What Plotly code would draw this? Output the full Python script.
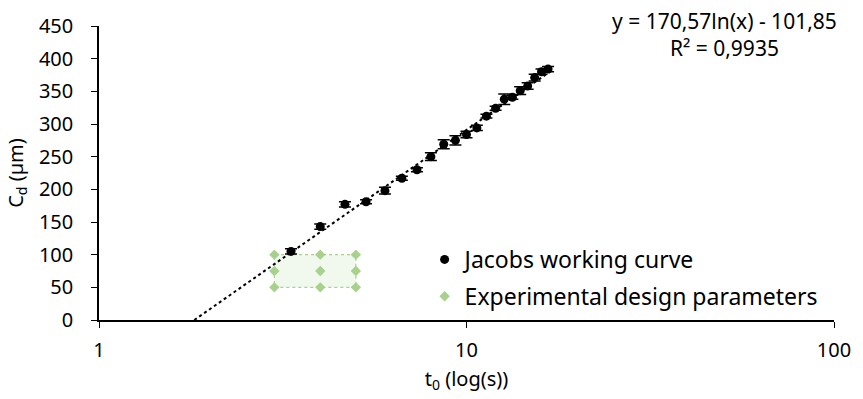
import numpy as np
import plotly.graph_objects as go

# Jacobs working curve: exposure time t0 (s) vs cure depth Cd (µm)
t0_jacobs = [3.33, 4.0, 4.67, 5.33, 6.0, 6.67, 7.33, 8.0, 8.67, 9.33, 10.0,
             10.67, 11.33, 12.0, 12.67, 13.33, 14.0, 14.67, 15.33, 16.0, 16.67]
cd_jacobs = [105, 143, 177, 181, 198, 217, 230, 250, 269, 275, 284,
             294, 312, 324, 338, 341, 351, 358, 371, 380, 384]
cd_err = [4, 4, 4, 3, 5, 3, 3, 6, 7, 7, 5,
          4, 3, 3, 8, 3, 6, 5, 5, 4, 4]

# Experimental design grid
t0_design = [3, 3, 3, 4, 4, 4, 5, 5, 5]
cd_design = [50, 75, 100, 50, 75, 100, 50, 75, 100]

# Logarithmic fit coefficients
fit_a = 170.57
fit_b = -101.85
fit_r2 = 0.9935

FONT = "Noto Sans"
GREEN = "#A9D18E"

fig = go.Figure()

# shaded design window (shape coordinates are data values on the log axis)
fig.add_shape(type="rect", xref="x", yref="y",
              x0=min(t0_design), x1=max(t0_design),
              y0=min(cd_design), y1=max(cd_design),
              fillcolor="rgba(169,209,142,0.16)",
              line=dict(color=GREEN, width=1.2, dash="dot"), layer="below")

# trendline from the fitted equation, from y=0 to the end of the data
x_start = np.exp(-fit_b / fit_a)
x_fit = np.geomspace(x_start, 17.0, 40)
y_fit = fit_a * np.log(x_fit) + fit_b
fig.add_trace(go.Scatter(x=x_fit, y=y_fit, mode="lines",
                         line=dict(color="black", width=2, dash="dot"),
                         showlegend=False, hoverinfo="skip"))

fig.add_trace(go.Scatter(
    x=t0_jacobs, y=cd_jacobs, mode="markers", name="Jacobs working curve",
    legendgroup="a",
    marker=dict(color="black", size=9, symbol="circle"),
    error_y=dict(type="data", array=cd_err, visible=True,
                 color="black", thickness=1.5, width=6)))

fig.add_trace(go.Scatter(
    x=t0_design, y=cd_design, mode="markers",
    name="Experimental design parameters", legendgroup="b",
    marker=dict(color=GREEN, size=8, symbol="diamond")))

eq_text = (f"y = {fit_a:.2f}ln(x) - {abs(fit_b):.2f}".replace(".", ",")
           + "<br>" + f"R² = {fit_r2:.4f}".replace(".", ","))
fig.add_annotation(text=eq_text, xref="paper", yref="paper",
                   x=0.8504, y=1.072, xanchor="center", yanchor="top",
                   showarrow=False, align="center",
                   font=dict(family=FONT, size=21, color="black"))

fig.update_layout(
    width=863, height=399,
    margin=dict(l=99, r=22, t=20, b=78),
    paper_bgcolor="white", plot_bgcolor="white",
    font=dict(family=FONT, size=20, color="black"),
    legend=dict(x=0.443, y=0.279, xanchor="left", yanchor="top",
                bgcolor="rgba(0,0,0,0)", tracegroupgap=4,
                font=dict(family=FONT, size=23, color="black")),
    xaxis=dict(type="log", range=[0, 2], tickvals=[1, 10, 100],
               ticktext=["1", "10", "100"],
               showline=True, linecolor="black", linewidth=1.5,
               ticks="outside", ticklen=6, tickcolor="black",
               showgrid=False, zeroline=False, ticklabelstandoff=5,
               title=dict(text="t<sub>0</sub> (log(s))", standoff=10,
                          font=dict(family=FONT, size=20))),
    yaxis=dict(range=[0, 450], dtick=50,
               showline=True, linecolor="black", linewidth=1.5,
               ticks="outside", ticklen=6, tickcolor="black",
               showgrid=False, zeroline=False, ticklabelstandoff=14,
               title=dict(text="C<sub>d</sub> (µm)", standoff=10,
                          font=dict(family=FONT, size=20))),
)

fig.write_html("out.html")
